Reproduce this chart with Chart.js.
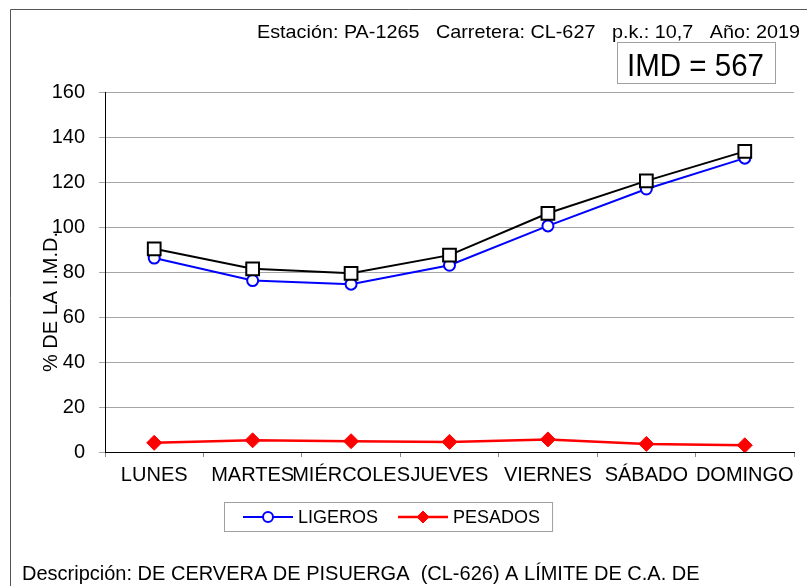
<!DOCTYPE html>
<html lang="es">
<head>
<meta charset="utf-8">
<title>Distribución semanal de la I.M.D. — PA-1265</title>
<script src="https://cdn.jsdelivr.net/npm/chart.js@4/dist/chart.umd.min.js"></script>
<style>
  html, body { margin: 0; padding: 0; background: #fff; }
  #wrap { position: relative; width: 807px; height: 586px; }
  canvas { display: block; }
</style>
</head>
<body>
<div id="wrap"><canvas id="chart" width="807" height="586"></canvas></div>
<script>
// Días de la semana (eje X)
const days = ['LUNES', 'MARTES', 'MIÉRCOLES', 'JUEVES', 'VIERNES', 'SÁBADO', 'DOMINGO'];
// % de la I.M.D. por día
const ligeros = [86.2, 76.2, 74.6, 83.0, 100.5, 116.9, 130.6];
const pesados = [4.1, 5.2, 4.8, 4.5, 5.6, 3.6, 3.0];
const total   = [90.3, 81.4, 79.4, 87.5, 106.1, 120.5, 133.6];
// Escala vertical
const yMin = 0, yMax = 160, yStep = 20;

const station = 'Estación: PA-1265   Carretera: CL-627   p.k.: 10,7   Año: 2019';
const imdLabel = 'IMD = 567';
const yTitle = '% DE LA I.M.D.';
const description = 'Descripción: DE CERVERA DE PISUERGA  (CL-626) A LÍMITE DE C.A. DE';

const FONT = '"Liberation Sans", Arial, Helvetica, sans-serif';

// Draws text scaled horizontally to a given width
function fitText(ctx, text, x, y, width) {
  const w = ctx.measureText(text).width;
  const s = width / w;
  ctx.save();
  ctx.translate(x, y);
  ctx.scale(s, 1);
  ctx.fillText(text, 0, 0);
  ctx.restore();
}

const decorations = {
  id: 'decorations',
  afterDraw(chart) {
    const ctx = chart.ctx;
    const area = chart.chartArea;
    ctx.save();

    // outer frame
    ctx.strokeStyle = '#555';
    ctx.lineWidth = 1;
    ctx.beginPath();
    ctx.moveTo(10.5, 600);
    ctx.lineTo(10.5, 9.5);
    ctx.lineTo(820, 9.5);
    ctx.stroke();

    // station header
    ctx.fillStyle = '#000';
    ctx.textBaseline = 'alphabetic';
    ctx.textAlign = 'left';
    ctx.font = '19px ' + FONT;
    fitText(ctx, station, 257, 38, 543);

    // IMD box
    ctx.fillStyle = '#fff';
    ctx.fillRect(617, 42, 159, 42);
    ctx.strokeStyle = '#a0a0a0';
    ctx.strokeRect(617.5, 42.5, 158, 41);
    ctx.fillStyle = '#000';
    ctx.font = '31px ' + FONT;
    fitText(ctx, imdLabel, 627, 76, 137);

    // vertical axis title
    ctx.save();
    ctx.translate(area.left - 48, 302);
    ctx.rotate(-Math.PI / 2);
    ctx.textAlign = 'center';
    ctx.font = '20px ' + FONT;
    ctx.fillText(yTitle, 0, 0);
    ctx.restore();

    // legend (series with a label shown)
    const items = chart.data.datasets.filter(d => !d.hideInLegend);
    ctx.font = '18px ' + FONT;
    const boxL = 224, boxT = 502, boxH = 29, midY = boxT + boxH / 2 + 0.5;
    let x = boxL + 19;
    const parts = items.map(d => ({ d, tw: ctx.measureText(d.label).width }));
    const boxW = 19 + parts.reduce((s, p) => s + 50 + 5 + p.tw, 0) + 20 * (parts.length - 1) + 12;
    ctx.strokeStyle = '#a0a0a0';
    ctx.lineWidth = 1;
    ctx.strokeRect(boxL + 0.5, boxT + 0.5, boxW, boxH);
    parts.forEach(p => {
      const d = p.d;
      ctx.strokeStyle = d.borderColor;
      ctx.lineWidth = d.borderWidth;
      ctx.beginPath();
      ctx.moveTo(x, midY);
      ctx.lineTo(x + 50, midY);
      ctx.stroke();
      ctx.fillStyle = d.pointBackgroundColor;
      ctx.strokeStyle = d.pointBorderColor;
      ctx.lineWidth = d.pointBorderWidth;
      ctx.beginPath();
      if (d.pointStyle === 'circle') {
        ctx.arc(x + 25, midY, d.legendRadius, 0, Math.PI * 2);
      } else {
        const r = d.legendRadius;
        ctx.moveTo(x + 25, midY - r);
        ctx.lineTo(x + 25 + r, midY);
        ctx.lineTo(x + 25, midY + r);
        ctx.lineTo(x + 25 - r, midY);
        ctx.closePath();
      }
      ctx.fill();
      ctx.stroke();
      ctx.fillStyle = '#000';
      ctx.textBaseline = 'middle';
      ctx.textAlign = 'left';
      ctx.fillText(d.label, x + 55, midY + 1);
      x += 55 + p.tw + 20;
    });

    // description
    ctx.textBaseline = 'alphabetic';
    ctx.font = '20px ' + FONT;
    ctx.fillStyle = '#000';
    ctx.fillText(description, 22, 580);

    ctx.restore();
  }
};

new Chart(document.getElementById('chart'), {
  type: 'line',
  data: {
    labels: days,
    datasets: [
      {
        label: 'TOTAL',
        hideInLegend: true,
        data: total,
        order: 0,
        borderColor: '#000',
        borderWidth: 2,
        pointStyle: 'rect',
        pointRadius: 9,
        pointBackgroundColor: '#fff',
        pointBorderColor: '#000',
        pointBorderWidth: 2,
        tension: 0
      },
      {
        label: 'LIGEROS',
        data: ligeros,
        order: 1,
        borderColor: '#0000ff',
        borderWidth: 2,
        pointStyle: 'circle',
        pointRadius: 5.5,
        legendRadius: 5,
        pointBackgroundColor: '#fff',
        pointBorderColor: '#0000ff',
        pointBorderWidth: 2,
        tension: 0
      },
      {
        label: 'PESADOS',
        data: pesados,
        order: 2,
        borderColor: '#ff0000',
        borderWidth: 2.5,
        pointStyle: 'rectRot',
        pointRadius: 7.5,
        legendRadius: 6,
        pointBackgroundColor: '#ff0000',
        pointBorderColor: '#ff0000',
        pointBorderWidth: 1,
        tension: 0
      }
    ]
  },
  options: {
    responsive: false,
    animation: false,
    events: [],
    layout: { padding: { left: 0, top: 92, right: 13, bottom: 0 } },
    plugins: {
      legend: { display: false },
      tooltip: { enabled: false },
      title: { display: false }
    },
    scales: {
      x: {
        type: 'category',
        offset: true,
        grid: {
          offset: true,
          drawOnChartArea: false,
          drawTicks: true,
          tickLength: 5,
          color: '#888'
        },
        border: { color: '#000', width: 1 },
        ticks: {
          color: '#000',
          font: { family: FONT, size: 20 },
          padding: 6,
          maxRotation: 0,
          minRotation: 0,
          autoSkip: false
        },
        afterFit(scale) { scale.height = 134; }
      },
      y: {
        min: yMin,
        max: yMax,
        grid: {
          color: '#a6a6a6',
          tickLength: 6,
          lineWidth: 1
        },
        border: { color: '#000', width: 1 },
        ticks: {
          stepSize: yStep,
          color: '#000',
          font: { family: FONT, size: 20 },
          padding: 14
        },
        afterFit(scale) { scale.width = 105; }
      }
    }
  },
  plugins: [decorations]
});
</script>
</body>
</html>
